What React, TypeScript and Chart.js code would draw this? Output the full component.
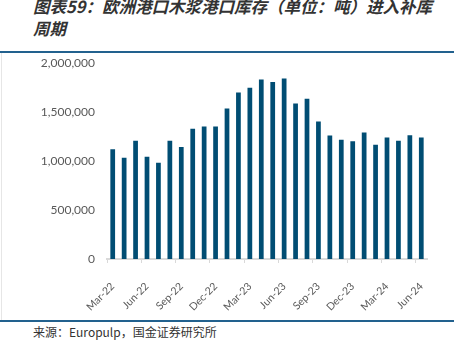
import React, { useEffect, useRef } from "react";
import { Chart, registerables } from "chart.js";

Chart.register(...registerables);

const categories = [
  "Mar-22", "Apr-22", "May-22", "Jun-22", "Jul-22", "Aug-22", "Sep-22", "Oct-22", "Nov-22", "Dec-22",
  "Jan-23", "Feb-23", "Mar-23", "Apr-23", "May-23", "Jun-23", "Jul-23", "Aug-23", "Sep-23", "Oct-23",
  "Nov-23", "Dec-23", "Jan-24", "Feb-24", "Mar-24", "Apr-24", "May-24", "Jun-24",
];

const stockTonnes = [
  1120000, 1034000, 1207000, 1044000, 983000, 1207000, 1143000, 1330000, 1354000, 1354000,
  1538000, 1701000, 1748000, 1834000, 1809000, 1844000, 1589000, 1636000, 1405000, 1262000,
  1218000, 1204000, 1293000, 1167000, 1242000, 1207000, 1265000, 1242000,
];

const yTicks = [0, 500000, 1000000, 1500000, 2000000];

const titleLine1 = "图表59：欧洲港口木浆港口库存（单位：吨）进入补库";
const titleLine2 = "周期";
const sourceText = "来源：Europulp，国金证券研究所";

export default function App() {
  const ref = useRef<HTMLCanvasElement | null>(null);

  useEffect(() => {
    if (!ref.current) return;
    const chart = new Chart(ref.current, {
      type: "bar",
      data: {
        labels: categories,
        datasets: [
          {
            data: stockTonnes,
            backgroundColor: "#004d73",
            barPercentage: 0.9,
            categoryPercentage: 0.46,
          },
        ],
      },
      options: {
        animation: false,
        responsive: false,
        maintainAspectRatio: false,
        layout: { padding: { left: 0, right: 28, top: 3, bottom: 0 } },
        plugins: { legend: { display: false }, tooltip: { enabled: false } },
        scales: {
          x: {
            offset: true,
            grid: {
              offset: true,
              drawOnChartArea: false,
              drawTicks: true,
              tickLength: 4,
              color: (c: any) => (c.index % 3 === 0 ? "#d9d9d9" : "rgba(0,0,0,0)"),
              lineWidth: 1,
            },
            border: { display: true, color: "#d9d9d9", width: 2 },
            ticks: {
              autoSkip: false,
              maxRotation: 45,
              minRotation: 45,
              padding: 17,
              color: "#595959",
              font: { family: "Lato", size: 10.5 },
              callback: (_v: any, i: number) => (i % 3 === 0 ? categories[i] : ""),
            },
            afterFit: (s: any) => {
              s.height = 61;
            },
          },
          y: {
            min: 0,
            max: 2000000,
            afterBuildTicks: (s: any) => {
              s.ticks = yTicks.map((v) => ({ value: v }));
            },
            grid: { display: false, drawTicks: false },
            border: { display: false },
            ticks: {
              padding: 12,
              color: "#595959",
              font: { family: "Lato", size: 12 },
              callback: (v: any) => Number(v).toLocaleString("en-US"),
            },
            afterFit: (s: any) => {
              s.width = 107;
            },
          },
        },
      },
    });
    return () => chart.destroy();
  }, []);

  return (
    <div
      style={{
        position: "fixed",
        left: 0,
        top: 0,
        width: 463,
        height: 341,
        background: "#fff",
        overflow: "hidden",
      }}
    >
      <div
        style={{
          position: "absolute",
          left: 33,
          top: -5,
          width: 430,
          fontFamily: "'Noto Sans CJK SC', sans-serif",
          fontWeight: 700,
          fontStyle: "italic",
          fontSize: 16.5,
          lineHeight: "22px",
          color: "#333",
          whiteSpace: "nowrap",
        }}
      >
        <div>{titleLine1}</div>
        <div>{titleLine2}</div>
      </div>
      <div style={{ position: "absolute", left: 0, top: 51, width: 454, height: 2, background: "#22618e" }} />
      <div style={{ position: "absolute", left: 1, top: 53, width: 1, height: 268, background: "#e6e6e6" }} />
      <div style={{ position: "absolute", left: 0, top: 44 }}>
        <canvas ref={ref} width={455} height={276} style={{ width: 455, height: 276, display: "block" }} />
      </div>
      <div style={{ position: "absolute", left: 0, top: 320, width: 454, height: 2, background: "#22618e" }} />
      <div
        style={{
          position: "absolute",
          left: 33,
          top: 324,
          fontFamily: "'Noto Sans CJK SC', sans-serif",
          fontSize: 12,
          lineHeight: "16px",
          color: "#333",
          whiteSpace: "nowrap",
        }}
      >
        {sourceText}
      </div>
    </div>
  );
}
